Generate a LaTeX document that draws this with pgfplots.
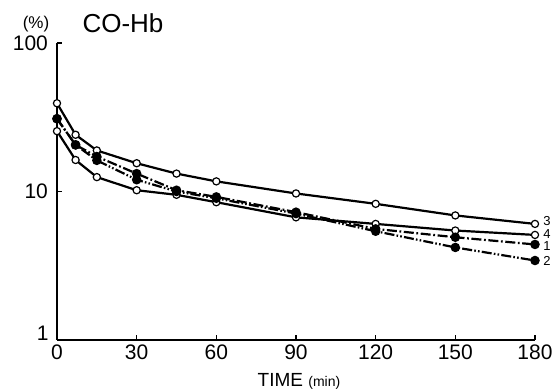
\documentclass[border=0pt]{standalone}
\usepackage{fontspec}
\setmainfont{Liberation Sans}
\usepackage{pgfplots}
\pgfplotsset{compat=1.18}
\begin{document}
\begin{tikzpicture}
\useasboundingbox (-28.5pt,-25pt) rectangle (250.5pt,170pt);
\begin{axis}[
  at={(0,0)}, anchor=south west,
  scale only axis, width=239pt, height=148.5pt,
  xmin=0, xmax=180, ymode=log, ymin=1, ymax=100,
  axis x line=bottom, axis y line=left,
  axis line style={-, line width=1.4pt},
  xtick={0,30,60,90,120,150,180},
  ytick={10,100}, yticklabels={10,100},
  yminorticks=false,
  tick align=inside, major tick length=2.5pt,
  tick style={line width=0.8pt, black},
  /pgf/number format/assume math mode=true,
  ticklabel style={font=\fontsize{10.5}{12}\selectfont},
  xticklabel style={yshift=1pt},
  yticklabel style={xshift=-1pt},
  clip=false,
]
\addplot[line width=1.1pt, mark=*, mark size=1.8pt, mark options={fill=white, draw=black, line width=0.6pt, solid}]
 coordinates {(0,39.3)(7,24.1)(15,18.9)(30,15.5)(45,13.2)(60,11.7)(90,9.7)(120,8.26)(150,6.9)(180,6.05)};
\addplot[line width=1.1pt, mark=*, mark size=1.8pt, mark options={fill=white, draw=black, line width=0.6pt, solid}]
 coordinates {(0,25.5)(7,16.3)(15,12.5)(30,10.2)(45,9.5)(60,8.47)(90,6.7)(120,6.05)(150,5.46)(180,5.1)};
\addplot[line width=1.1pt, dash pattern=on 5pt off 1.3pt on 0.9pt off 1.3pt, mark=*, mark size=1.8pt, mark options={fill=black, draw=black, solid}]
 coordinates {(0,30.9)(7,20.6)(15,17.2)(30,13.2)(45,10.2)(60,9.2)(90,7.26)(120,5.6)(150,4.92)(180,4.4)};
\addplot[line width=1.1pt, dash pattern=on 5pt off 1.1pt on 0.8pt off 1.1pt on 0.8pt off 1.1pt, mark=*, mark size=1.8pt, mark options={fill=black, draw=black, solid}]
 coordinates {(0,30.9)(7,20.6)(15,16.2)(30,12.0)(45,10.0)(60,9.0)(90,7.1)(120,5.4)(150,4.2)(180,3.43)};
\node[anchor=west, font=\fontsize{6.5}{7}\selectfont, inner sep=0pt] at (axis cs:180,6.05) [xshift=4pt, yshift=1.4pt] {3};
\node[anchor=west, font=\fontsize{6.5}{7}\selectfont, inner sep=0pt] at (axis cs:180,5.1) [xshift=4pt, yshift=0.3pt] {4};
\node[anchor=west, font=\fontsize{6.5}{7}\selectfont, inner sep=0pt] at (axis cs:180,4.4) [xshift=4pt, yshift=-1pt] {1};
\node[anchor=west, font=\fontsize{6.5}{7}\selectfont, inner sep=0pt] at (axis cs:180,3.43) [xshift=4pt, yshift=-0.3pt] {2};
\end{axis}
\node[font=\fontsize{10.5}{12}\selectfont, anchor=east, inner sep=0pt] at (-4pt,3.5pt) {1};
\node[font=\fontsize{13}{15}\selectfont, inner sep=0pt] at (33pt,158.5pt) {CO-Hb};
\node[font=\fontsize{8.5}{10}\selectfont, inner sep=0pt] at (-10.5pt,158pt) {(\%)};
\node[inner sep=0pt] at (121pt,-20.5pt) {\fontsize{9.5}{11}\selectfont TIME \fontsize{7}{8}\selectfont(min)};
\end{tikzpicture}
\end{document}
